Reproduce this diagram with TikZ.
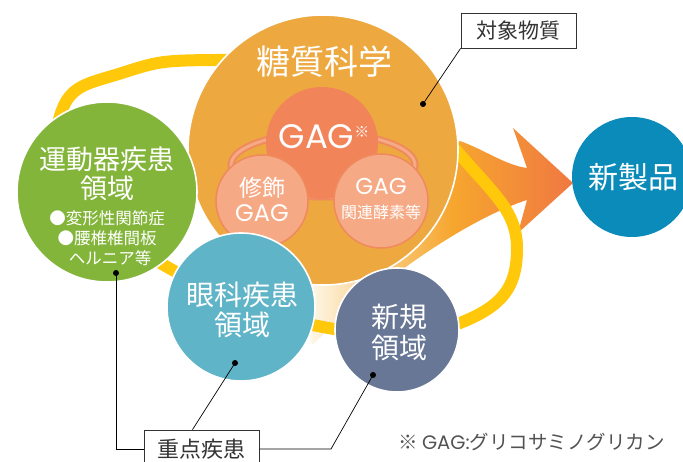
\documentclass[tikz,border=0pt]{standalone}
\usepackage{fontspec}
\setmainfont{Noto Sans CJK JP}
\newfontfamily\gagfont{Poppins}
\definecolor{sugar}{HTML}{EDA83F}
\definecolor{gagcore}{HTML}{F2845A}
\definecolor{gagsub}{HTML}{F6A985}
\definecolor{gagline}{HTML}{EF8A5F}
\definecolor{motor}{HTML}{83B53A}
\definecolor{eye}{HTML}{60B4C7}
\definecolor{frontier}{HTML}{687795}
\definecolor{product}{HTML}{0B8BB9}
\definecolor{ringyellow}{HTML}{FFC80A}
\definecolor{pale}{HTML}{FEF6E6}
\definecolor{arrowlight}{HTML}{F9CC80}
\definecolor{arrowmid}{HTML}{F6A62E}
\definecolor{arrowtip}{HTML}{F07842}
\definecolor{ink}{HTML}{333333}
\pgfdeclarehorizontalshading{arrowshade}{100bp}{color(0bp)=(pale); color(27bp)=(pale); color(40bp)=(arrowlight); color(53bp)=(arrowmid); color(75bp)=(arrowtip); color(100bp)=(arrowtip)}
\tikzset{
	zone/.style={circle, inner sep=0pt, draw=white, line width=1.6pt},
	gagdisc/.style={circle, inner sep=0pt},
	caption/.style={text=white, align=center, inner sep=0pt},
	tagbox/.style={draw=ink, line width=0.8pt, fill=white, text=ink, inner sep=0pt},
	leader/.style={draw=black, line width=0.7pt},
	leaddot/.style={fill=black}
}

\begin{document}
\begin{tikzpicture}[x=1pt, y=-1pt]
	\useasboundingbox (0,0) rectangle (683,462);
	\shade[shading=arrowshade] (300,300) -- (300,230) -- (460,141) .. controls (485,150) and (505,165) .. (527,168) -- (513,128) -- (573,183) -- (518,233) -- (527,200) .. controls (480,215) and (400,262) .. (312,345) -- cycle;
	\draw[ringyellow, line width=12pt] plot[smooth cycle, tension=0.8] coordinates {(62,110) (125,72) (217,60) (360,70) (462,157) (517,250) (460,323) (323,327) (169,268) (80,190)};

	\node[zone, fill=sugar, minimum size=270pt] (sugar) at (323,150) {};
	\draw[gagline, line width=7pt] (323,165) ellipse (92 and 32);
	\draw[gagsub, line width=3pt] (323,165) ellipse (92 and 32);
	\node[gagdisc, fill=gagcore, minimum size=112pt] (core) at (322,143) {};
	\node[gagdisc, fill=gagsub, draw=gagline, line width=1.5pt, minimum size=92pt] (modified) at (262,201) {};
	\node[gagdisc, fill=gagsub, draw=gagline, line width=1.5pt, minimum size=94pt] (enzyme) at (381,201) {};
	\node[zone, fill=motor, minimum size=180pt] (motor) at (107,192) {};
	\node[zone, fill=eye, minimum size=148pt] (eye) at (241,307) {};
	\node[zone, fill=frontier, minimum size=124pt] (frontier) at (397,330) {};
	\node[gagdisc, fill=product, minimum size=120pt] (product) at (632,177) {};

	\node[caption, font=\fontsize{34}{34}\selectfont] (sugartext) at (324,62) {糖質科学};
	\node[caption, font=\gagfont\fontsize{34}{34}\selectfont] (coretext) at (324,137) {GAG\raisebox{11pt}{\normalfont\fontsize{15}{15}\selectfont ※}};
	\node[caption, font=\fontsize{23}{23}\selectfont] (modtop) at (262,188) {修飾};
	\node[caption, font=\gagfont\fontsize{24}{24}\selectfont] (modbottom) at (262,213) {GAG};
	\node[caption, font=\gagfont\fontsize{23}{23}\selectfont] (enztop) at (381,186) {GAG};
	\node[caption, font=\fontsize{16}{16}\selectfont] (enzbottom) at (381,212) {関連酵素等};
	\node[caption, font=\fontsize{27}{29}\selectfont] (motortext) at (107,174) {運動器疾患\\領域};
	\node[caption, font=\fontsize{16.5}{20}\selectfont] (motorlist) at (107,238) {●変形性関節症\\●腰椎椎間板\\\hspace*{6pt}ヘルニア等};
	\node[caption, font=\fontsize{28}{30}\selectfont] (eyetext) at (242,310) {眼科疾患\\領域};
	\node[caption, font=\fontsize{28}{31}\selectfont] (frontiertext) at (399,332) {新規\\領域};
	\node[caption, font=\fontsize{30}{30}\selectfont] (producttext) at (633,177) {新製品};

	\node[tagbox, minimum width=115pt, minimum height=35pt, font=\fontsize{21}{21}\selectfont] (substance) at (518.5,30.5) {対象物質};
	\node[tagbox, minimum width=115pt, minimum height=38pt, font=\fontsize{22}{22}\selectfont] (focus) at (201.5,449) {重点疾患};

	\coordinate (motordot) at (116,273);
	\coordinate (eyedot) at (235,363);
	\coordinate (frontierdot) at (373,375);
	\coordinate (frontierbend) at (331,449);
	\coordinate (sugardot) at (423,104);
	\foreach \d in {motordot, eyedot, frontierdot, sugardot}
		\fill[leaddot] (\d) circle (3pt);
	\draw[leader] (motordot) |- (focus.west);
	\draw[leader] (eyedot) -- ([xshift=-9pt]focus.north);
	\draw[leader] (frontierdot) -- (frontierbend) -- (focus.east);
	\draw[leader] (sugardot) -- (substance.south west);

	\node[text=ink!85, font=\fontsize{19.5}{19.5}\selectfont, anchor=west, inner sep=0pt] (note) at (398,442) {※ {\gagfont GAG:}グリコサミノグリカン};
\end{tikzpicture}
\end{document}
